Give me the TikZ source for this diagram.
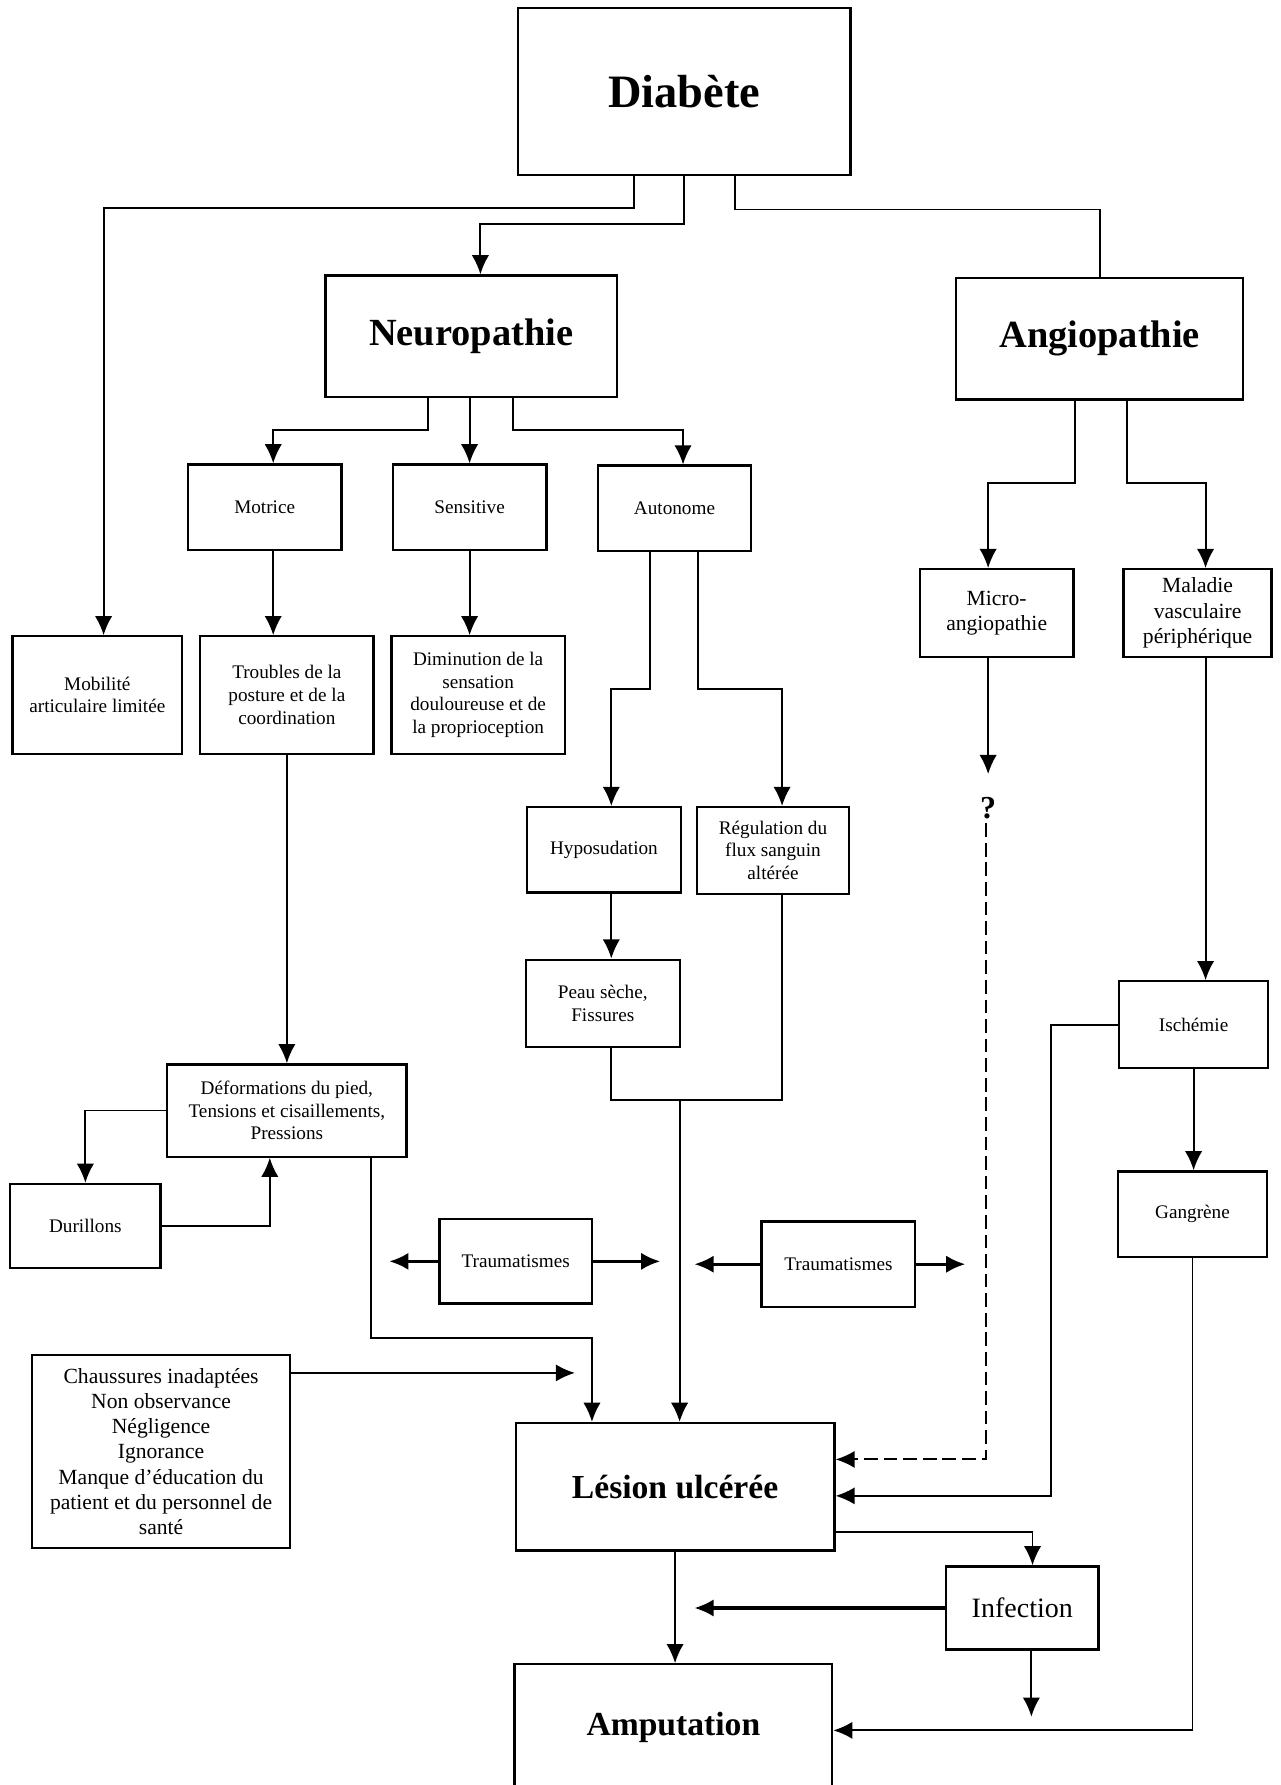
\documentclass[tikz,border=0pt]{standalone}
\usepackage{fontspec}
\setmainfont{Liberation Serif}
\usetikzlibrary{arrows.meta}

\tikzset{
  box/.style={draw, line width=1.4pt, align=center, inner sep=1pt,
    font=\fontsize{12}{14.2}\selectfont},
  bigbox/.style={box, font=\bfseries\fontsize{24}{28}\selectfont},
  midbox/.style={box, font=\fontsize{13.5}{16}\selectfont},
  heavy/.style={line width=1.9pt},
}

\begin{document}
\begin{tikzpicture}[x=0.025cm, y=-0.025cm, >={Latex[length=4.2mm,width=3.8mm]}, line width=1.2pt]
    \useasboundingbox (0,0) rectangle (1125,1568);
    % boxes
    \node [bigbox, minimum width=7.3cm, minimum height=3.675cm,
      font=\bfseries\fontsize{29}{33}\selectfont] (diab) at (601,80.5) {Diabète};
    \node [bigbox, minimum width=6.4cm, minimum height=2.675cm] (neuro) at (414,295.5) {Neuropathie};
    \node [bigbox, minimum width=6.3cm, minimum height=2.675cm] (angio) at (966,297.5) {Angiopathie};
    \node [box, minimum width=3.375cm, minimum height=1.875cm] (motr) at (232.5,445.5) {Motrice};
    \node [box, minimum width=3.375cm, minimum height=1.875cm] (sens) at (412.5,445.5) {Sensitive};
    \node [box, minimum width=3.375cm, minimum height=1.875cm] (auto) at (592.5,446.5) {Autonome};
    \node [midbox, minimum width=3.375cm, minimum height=1.925cm] (micro) at (875.5,538.5) {Micro-\\angiopathie};
    \node [midbox, minimum width=3.25cm, minimum height=1.925cm] (malad) at (1052,538.5) {Maladie\\vasculaire\\périphérique};
    \node [box, minimum width=3.725cm, minimum height=2.575cm] (mobil) at (85.5,610.5) {Mobilité\\articulaire limitée};
    \node [box, minimum width=3.8cm, minimum height=2.575cm] (troub) at (252,610.5) {Troubles de la\\posture et de la\\coordination};
    \node [box, minimum width=3.8cm, minimum height=2.575cm] (dimin) at (420,610.5) {Diminution de la\\sensation\\douloureuse et de\\la proprioception};
    \node [box, minimum width=3.375cm, minimum height=1.875cm] (hypos) at (530.5,746.5) {Hyposudation};
    \node [box, minimum width=3.35cm, minimum height=1.9cm] (regul) at (679,747) {Régulation du\\flux sanguin\\altérée};
    \node [box, minimum width=3.375cm, minimum height=1.925cm] (peau) at (529.5,881.5) {Peau sèche,\\Fissures};
    \node [box, minimum width=3.275cm, minimum height=1.9cm] (isch) at (1048.5,900) {Ischémie};
    \node [box, minimum width=5.25cm, minimum height=2.025cm] (defor) at (252,975.5) {Déformations du pied,\\Tensions et cisaillements,\\Pressions};
    \node [box, minimum width=3.3cm, minimum height=1.85cm] (duril) at (75,1077) {Durillons};
    \node [box, minimum width=3.35cm, minimum height=1.85cm] (traumA) at (453,1108) {Traumatismes};
    \node [box, minimum width=3.375cm, minimum height=1.875cm] (traumB) at (736.5,1110.5) {Traumatismes};
    \node [box, minimum width=3.275cm, minimum height=1.875cm] (gangr) at (1047.5,1066.5) {Gangrène};
    \node [midbox, minimum width=5.675cm, minimum height=4.25cm, font=\fontsize{13.5}{15.8}\selectfont] (chaus) at (141.5,1275)
      {Chaussures inadaptées\\Non observance\\Négligence\\Ignorance\\Manque d’éducation du\\patient et du personnel de\\santé};
    \node [bigbox, minimum width=7cm, minimum height=2.8cm, font=\bfseries\fontsize{21}{25}\selectfont] (lesion) at (593,1306) {Lésion ulcérée};
    \node [box, minimum width=3.35cm, minimum height=1.825cm, font=\fontsize{17.5}{20}\selectfont] (infec) at (898,1412.5) {Infection};
    \node [bigbox, minimum width=6.975cm, minimum height=2.75cm, font=\bfseries\fontsize{21}{25}\selectfont] (amput) at (591.5,1517) {Amputation};
    \node [font=\bfseries\fontsize{20}{24}\selectfont, inner sep=2pt] (q) at (868,710) {?};
    % branch points
    \coordinate (dl) at (557,183);
    \coordinate (dl2) at (91,183);
    \coordinate (dm) at (601,197);
    \coordinate (dm2) at (422,197);
    \coordinate (dr) at (646,184);
    \coordinate (nl) at (376,378);
    \coordinate (nl2) at (240,378);
    \coordinate (nr) at (451,378);
    \coordinate (nr2) at (600,378);
    \coordinate (al) at (571,605);
    \coordinate (al2) at (537,605);
    \coordinate (ar) at (613,605);
    \coordinate (ar2) at (687,605);
    \coordinate (ab) at (944,424);
    \coordinate (ab2) at (868,424);
    \coordinate (ac) at (990,424);
    \coordinate (ac2) at (1059,424);
    \coordinate (pj) at (597,966);
    \coordinate (dd) at (237,1077);
    \coordinate (dj) at (326,1175);
    \coordinate (dk) at (520,1175);
    \coordinate (tAl) at (342,1108);
    \coordinate (tAr) at (580,1108);
    \coordinate (tBl) at (610,1110.5);
    \coordinate (tBr) at (848,1110.5);
    \coordinate (ce) at (505,1206);
    \coordinate (mq) at (868,680);
    \coordinate (mc) at (866,1282);
    \coordinate (ic) at (923,1314);
    \coordinate (gc) at (1053,1520);
    \coordinate (li) at (907,1346);
    \coordinate (il) at (610,1412.5);
    \coordinate (ib) at (906,1508);
    % connectors
    \draw [->] (diab.south -| dl) -- (dl) -- (dl2) -- (dl2 |- mobil.north);
    \draw [->] (diab.south) -- (dm) -- (dm2) -- (dm2 |- neuro.north);
    \draw (diab.south -| dr) -- (dr) -| (angio.north);
    \draw [->] (neuro.south -| nl) -- (nl) -- (nl2) -- (nl2 |- motr.north);
    \draw [->] (neuro.south -| sens) -- (sens.north);
    \draw [->] (neuro.south -| nr) -- (nr) -- (nr2) -- (nr2 |- auto.north);
    \draw [->] (motr.south -| nl2) -- (nl2 |- troub.north);
    \draw [->] (sens.south) -- (sens.south |- dimin.north);
    \draw [->] (auto.south -| al) -- (al) -- (al2) -- (al2 |- hypos.north);
    \draw [->] (auto.south -| ar) -- (ar) -- (ar2) -- (ar2 |- regul.north);
    \draw [->] (hypos.south -| al2) -- (al2 |- peau.north);
    \draw (peau.south -| al2) |- (ar2 |- pj) -- (ar2 |- regul.south);
    \draw [->] (pj) -- (pj |- lesion.north);
    \draw [->] (troub.south) -- (defor.north);
    \draw [->] (defor.west) -| (duril.north);
    \draw [->] (duril.east) -- (dd) -- (dd |- defor.south);
    \draw [->] (defor.south -| dj) -- (dj) -- (dk) -- (dk |- lesion.north);
    \draw [->, heavy] (traumA) -- (tAl);
    \draw [->, heavy] (traumA) -- (tAr);
    \draw [->, heavy] (traumB) -- (tBl);
    \draw [->, heavy] (traumB) -- (tBr);
    \draw [->] (chaus.east |- ce) -- (ce);
    \draw [->] (angio.south -| ab) -- (ab) -- (ab2) -- (ab2 |- micro.north);
    \draw [->] (angio.south -| ac) -- (ac) -- (ac2) -- (ac2 |- malad.north);
    \draw [->] (micro.south -| mq) -- (mq);
    \draw [->, dash pattern=on 3mm off 1.3mm] (q.south -| mc) -- (mc) -- (mc -| lesion.east);
    \draw [->] (malad.south -| ac2) -- (ac2 |- isch.north);
    \draw [->] (isch.west) -| (ic) -- (ic -| lesion.east);
    \draw [->] (isch.south) -- (isch.south |- gangr.north);
    \draw [->] (gangr.south) |- (amput.east |- gc);
    \draw [->] (lesion.south) -- (lesion.south |- amput.north);
    \draw [->] (lesion.east |- li) -- (li) -- (li |- infec.north);
    \draw [->, heavy] (infec) -- (il);
    \draw [->] (infec.south -| ib) -- (ib);
  \end{tikzpicture}
\end{document}
